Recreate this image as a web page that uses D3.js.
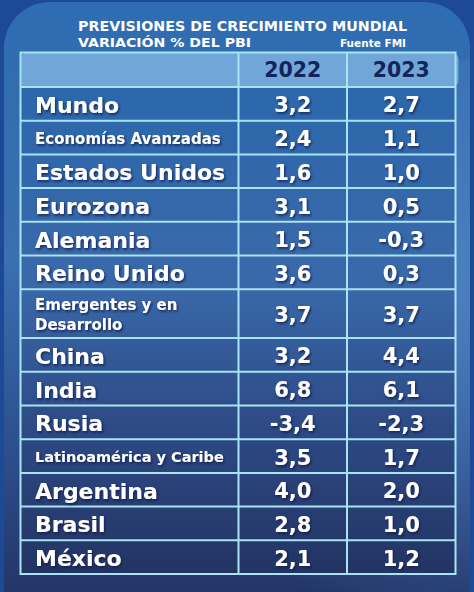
<!DOCTYPE html>
<html>
<head>
<meta charset="utf-8">
<script src="https://cdn.jsdelivr.net/npm/d3@7"></script>
<style>
  html, body { margin: 0; padding: 0; background: #1e4a95; }
  svg { display: block; }
  text { font-family: "DejaVu Sans", sans-serif; font-weight: bold; }
</style>
</head>
<body>
<svg id="chart" width="474" height="592"></svg>
<script>
// ---- data ----
const title1 = "PREVISIONES DE CRECIMIENTO MUNDIAL";
const title2 = "VARIACIÓN % DEL PBI";
const source = "Fuente FMI";
const years = ["2022", "2023"];
const categories = [
  "Mundo", "Economías Avanzadas", "Estados Unidos", "Eurozona", "Alemania",
  "Reino Unido", "Emergentes y en\nDesarrollo", "China", "India", "Rusia",
  "Latinoamérica y Caribe", "Argentina", "Brasil", "México"
];
const smallLabels = ["Economías Avanzadas", "Emergentes y en\nDesarrollo", "Latinoamérica y Caribe"];
const values2022 = [3.2, 2.4, 1.6, 3.1, 1.5, 3.6, 3.7, 3.2, 6.8, -3.4, 3.5, 4.0, 2.8, 2.1];
const values2023 = [2.7, 1.1, 1.0, 0.5, -0.3, 0.3, 3.7, 4.4, 6.1, -2.3, 1.7, 2.0, 1.0, 1.2];

// ---- setup ----
const W = 474, H = 592;
const svg = d3.select("#chart");
const defs = svg.append("defs");

const bgGrad = defs.append("linearGradient").attr("id", "bg").attr("x1", 0).attr("y1", 0).attr("x2", 0).attr("y2", 1);
[["0%", "#2f6cb1"], ["40%", "#3a6fb0"], ["70%", "#2d4d8a"], ["100%", "#1f2a58"]]
  .forEach(([o, c]) => bgGrad.append("stop").attr("offset", o).attr("stop-color", c));

const cellGrad = defs.append("linearGradient").attr("id", "cells").attr("x1", 0).attr("y1", 0).attr("x2", 0).attr("y2", 1);
[["0%", "#2c67ac"], ["40%", "#3a69aa"], ["70%", "#2d4a85"], ["100%", "#233463"]]
  .forEach(([o, c]) => cellGrad.append("stop").attr("offset", o).attr("stop-color", c));

const glow = defs.append("radialGradient").attr("id", "glow").attr("cx", 1).attr("cy", 0.42).attr("r", 0.6);
glow.append("stop").attr("offset", "0%").attr("stop-color", "#5a8fcf").attr("stop-opacity", 0.55);
glow.append("stop").attr("offset", "100%").attr("stop-color", "#5a8fcf").attr("stop-opacity", 0);

const shadow = defs.append("filter").attr("id", "shadow").attr("x", "-10%").attr("y", "-20%").attr("width", "130%").attr("height", "150%");
shadow.append("feDropShadow").attr("dx", 1.2).attr("dy", 1.6).attr("stdDeviation", 0.9)
  .attr("flood-color", "#0b1a45").attr("flood-opacity", 0.8);

// background
svg.append("rect").attr("width", W).attr("height", H).attr("fill", "#1d4a96");
svg.append("rect").attr("x", 4).attr("y", 2).attr("width", 466).attr("height", H + 60)
  .attr("rx", 46).attr("fill", "url(#bg)");
svg.append("rect").attr("x", 4).attr("y", 60).attr("width", 466).attr("height", H)
  .attr("fill", "url(#glow)");

// titles
svg.append("text").attr("x", 78).attr("y", 30.5).attr("font-size", 14.5).attr("fill", "#fff")
  .attr("textLength", 329).attr("lengthAdjust", "spacingAndGlyphs").text(title1);
svg.append("text").attr("x", 78).attr("y", 46.5).attr("font-size", 12.5).attr("fill", "#fff")
  .attr("textLength", 173).attr("lengthAdjust", "spacingAndGlyphs").text(title2);
svg.append("text").attr("x", 406).attr("y", 46.5).attr("font-size", 10.5).attr("fill", "#fff")
  .attr("text-anchor", "end").text(source);

// layout
const tableLeft = 20.5, tableRight = 455.5, headerTop = 52.5, headerBottom = 87, tableBottom = 574;
const colEdges = [tableLeft, 238.5, 347, tableRight];

const units = categories.map(c => c.includes("\n") ? 1.45 : 1);
const cum = [0];
units.forEach(u => cum.push(cum[cum.length - 1] + u));
const y = d3.scaleLinear().domain([0, cum[cum.length - 1]]).range([headerBottom, tableBottom]);
const colCenter = i => (colEdges[i + 1] + colEdges[i + 2]) / 2;

const fmt = d3.formatLocale({ decimal: ",", thousands: ".", grouping: [3], currency: ["", ""], minus: "-" }).format(".1f");

// cells background
svg.append("rect").attr("x", tableLeft).attr("y", headerBottom)
  .attr("width", tableRight - tableLeft).attr("height", tableBottom - headerBottom)
  .attr("fill", "url(#cells)");

// header
svg.append("rect").attr("x", tableLeft).attr("y", headerTop).attr("width", tableRight - tableLeft + 3)
  .attr("height", headerBottom - headerTop).attr("rx", 7).attr("fill", "#71a7d8");
svg.append("rect").attr("x", tableLeft + 1).attr("y", headerTop + 1).attr("width", 6)
  .attr("height", headerBottom - headerTop - 2).attr("fill", "#71a7d8");

years.forEach((yr, i) => {
  svg.append("text").attr("x", colCenter(i)).attr("y", (headerTop + headerBottom) / 2)
    .attr("dy", "0.36em").attr("text-anchor", "middle").attr("font-size", 20.5)
    .attr("fill", "#13245d").text(yr);
});

// grid lines
const gridColor = "#a9e4f6";
const grid = svg.append("g").attr("stroke", gridColor).attr("stroke-width", 2).attr("fill", "none");
grid.append("rect").attr("x", tableLeft).attr("y", headerTop)
  .attr("width", tableRight - tableLeft).attr("height", tableBottom - headerTop);
[headerBottom].concat(cum.slice(1, -1).map(d => y(d))).forEach(yy => {
  grid.append("line").attr("x1", tableLeft).attr("x2", tableRight).attr("y1", yy).attr("y2", yy);
});
colEdges.slice(1, 3).forEach(xx => {
  grid.append("line").attr("x1", xx).attr("x2", xx).attr("y1", headerTop).attr("y2", tableBottom);
});

// rows
const rows = svg.append("g").attr("fill", "#fff").attr("filter", "url(#shadow)");
categories.forEach((cat, i) => {
  const cy = (y(cum[i]) + y(cum[i + 1])) / 2 + 1;
  const small = smallLabels.includes(cat);
  const lines = cat.split("\n");
  const fs = small ? (cat.startsWith("Latino") ? 14.5 : 15) : 22;
  const lh = fs * 1.3;
  const t = rows.append("text").attr("x", 35).attr("font-size", fs);
  lines.forEach((ln, k) => {
    t.append("tspan").attr("x", 35)
      .attr("y", cy + (k - (lines.length - 1) / 2) * lh)
      .attr("dy", "0.36em").text(ln);
  });
  [values2022[i], values2023[i]].forEach((v, j) => {
    rows.append("text").attr("x", colCenter(j)).attr("y", cy).attr("dy", "0.36em")
      .attr("text-anchor", "middle").attr("font-size", 21).text(fmt(v));
  });
});
</script>
</body>
</html>
